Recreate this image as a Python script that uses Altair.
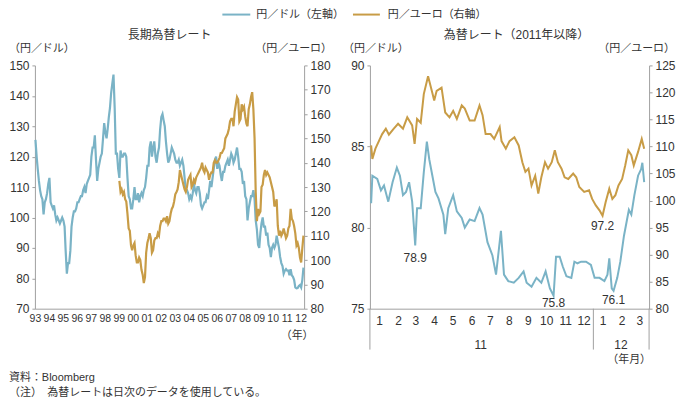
import altair as alt
import pandas as pd

BLUE = "#7ab3c6"
GOLD = "#c89c46"
GREY = "#a0a0a0"
TXT = "#333333"
FONT = "Liberation Sans, Noto Sans CJK JP, sans-serif"

# ---------------- data: long-term (monthly, mid-month) ----------------
usd_long = [
    125.5, 120, 116, 112, 109, 107, 106, 101, 105, 106, 108, 111,   # 1993
    113, 105, 104, 103, 104, 101, 99, 100, 99, 98, 99, 100,         # 1994
    99, 97, 89, 81.5, 85, 85, 89, 97, 100, 102, 102, 103,           # 1995
    105, 105, 106, 107, 107, 109, 110, 108, 111, 112, 113, 114,     # 1996
    120, 123, 123, 127, 119, 112, 116, 118, 120, 121, 126, 131,     # 1997
    128, 126, 129, 133, 136, 141, 144, 147, 136, 121, 121, 116,     # 1998
    113, 122, 120, 120, 121, 121, 120, 113, 107, 106, 103, 103,     # 1999
    106, 110, 106, 106, 108, 105, 107, 108, 107, 109, 110, 113,     # 2000
    117, 117, 123, 125, 120, 123, 125, 120, 118, 121, 123, 129,     # 2001
    133, 134, 132, 130, 125, 121, 118, 119, 121, 123, 122, 121,     # 2002
    119, 118, 118, 119, 117, 118, 119, 117, 113, 109, 109, 108,     # 2003
    106, 107, 106, 108, 111, 109, 108, 110, 110, 108, 104, 103,     # 2004
    104, 105, 105, 107, 106, 109, 112, 110, 113, 116, 119, 120,     # 2005
    116, 118, 117, 114, 112, 115, 115, 117, 118, 119, 117, 119,     # 2006
    121, 120, 118, 119, 121, 123, 120, 116, 116, 115, 111, 112,     # 2007
    107, 106, 99, 103, 105, 107, 107, 109, 106, 99, 96, 91,         # 2008
    90, 95, 98, 100, 97, 97, 94, 95, 91, 90, 87, 90,                # 2009
    91, 90, 91, 94, 92, 90, 87, 85, 84, 81.5, 82.5, 83,             # 2010
    82.5, 82.5, 81, 83, 81, 80.5, 79.5, 77, 76.7, 76.8, 77.5, 77.8, # 2011
    77, 79.5, 83.5,                                                 # 2012
]
eur_long = [
    132.5, 128, 129, 127, 128, 125, 124, 119, 113, 112, 106, 104,   # 1999
    106, 107, 102, 99, 99, 101, 100, 96, 94, 90.5, 93, 103,         # 2000
    107, 109, 111, 109, 103, 104, 108, 109, 109, 111, 110, 114,     # 2001
    116, 116, 117, 117, 116, 118, 115, 116, 119, 121, 122, 124,     # 2002
    127, 128, 129, 132, 137, 135, 133, 131, 129, 128, 130, 133,     # 2003
    134, 135, 130, 131, 133, 132, 134, 135, 136, 137, 138, 140,     # 2004
    137, 136, 138, 137, 136, 133, 135, 136, 136, 140, 141, 140,     # 2005
    140, 141, 142, 144, 144, 145, 146, 150, 151, 152, 154, 157,     # 2006
    158, 158, 155, 161, 164, 167, 166, 157, 158, 164, 162, 163,     # 2007
    159, 156, 155, 162, 164, 167, 169, 162, 150, 128, 116, 121,     # 2008
    119, 120, 130, 131, 135, 137, 135, 136, 135, 134, 132, 130,     # 2009
    128, 122, 123, 125, 114, 110, 112, 110, 111, 113, 111, 109,     # 2010
    110, 113, 114, 121, 117, 116, 114, 111, 106, 107, 105, 101,     # 2011
    99, 105, 110,                                                   # 2012
]
long_years = list(range(1993, 2013))

# ---------------- data: since 2011 ----------------
usd_short_dates = [
    "2011-01-03", "2011-01-05", "2011-01-13", "2011-01-19", "2011-01-24", "2011-01-31",
    "2011-02-07", "2011-02-14", "2011-02-19", "2011-02-24",
    "2011-03-01", "2011-03-06", "2011-03-11", "2011-03-16", "2011-03-19", "2011-03-25", "2011-03-30",
    "2011-04-04", "2011-04-08", "2011-04-13", "2011-04-18", "2011-04-23",
    "2011-05-01", "2011-05-04", "2011-05-09", "2011-05-17", "2011-05-23", "2011-05-31",
    "2011-06-05", "2011-06-13", "2011-06-21", "2011-06-29",
    "2011-07-04", "2011-07-12", "2011-07-20", "2011-07-26",
    "2011-08-03", "2011-08-08", "2011-08-15", "2011-08-24",
    "2011-09-01", "2011-09-09", "2011-09-14", "2011-09-22", "2011-09-30",
    "2011-10-08", "2011-10-15", "2011-10-22", "2011-10-28",
    "2011-11-01", "2011-11-07", "2011-11-12", "2011-11-18", "2011-11-26",
    "2011-12-01", "2011-12-06", "2011-12-12", "2011-12-20", "2011-12-28",
    "2012-01-03", "2012-01-11", "2012-01-19", "2012-01-24", "2012-01-27", "2012-01-31",
    "2012-02-03", "2012-02-09", "2012-02-14", "2012-02-20", "2012-02-25", "2012-02-28",
    "2012-03-03", "2012-03-08", "2012-03-14", "2012-03-19", "2012-03-21", "2012-03-24",
]
usd_short_values = [
    81.5, 83.2, 83.0, 82.3, 82.6, 81.6,
    82.8, 83.7, 83.2, 82.0,
    82.2, 82.8, 81.6, 78.9, 81.2, 81.2, 83.4,
    85.3, 84.2, 83.2, 82.2, 81.8,
    80.8, 79.6, 81.2, 82.0, 81.0, 80.6,
    80.0, 80.5, 80.4, 81.2,
    80.8, 79.1, 78.3, 77.1,
    79.8, 77.1, 76.7, 76.6,
    76.9, 77.3, 76.6, 76.35, 76.9,
    76.6, 77.3, 76.25, 75.8,
    78.2, 78.2, 77.6, 77.0, 76.9,
    77.9, 77.8, 77.9, 77.9, 77.7,
    76.9, 76.9, 76.7, 77.1, 78.1, 76.25,
    76.1, 76.9, 77.9, 79.5, 80.5, 81.1,
    80.8, 82.0, 83.2, 83.6, 84.0, 82.8,
]
eur_short_dates = [
    "2011-01-03", "2011-01-05", "2011-01-10", "2011-01-16", "2011-01-21", "2011-01-27",
    "2011-02-01", "2011-02-09", "2011-02-16", "2011-02-24",
    "2011-03-03", "2011-03-11", "2011-03-15", "2011-03-19", "2011-03-25", "2011-03-30",
    "2011-04-06", "2011-04-13", "2011-04-16", "2011-04-20", "2011-04-28",
    "2011-05-04", "2011-05-11", "2011-05-17", "2011-05-23", "2011-05-31",
    "2011-06-05", "2011-06-13", "2011-06-21", "2011-06-29",
    "2011-07-04", "2011-07-09", "2011-07-17", "2011-07-23",
    "2011-08-01", "2011-08-04", "2011-08-11", "2011-08-17", "2011-08-25",
    "2011-09-01", "2011-09-07", "2011-09-12", "2011-09-17", "2011-09-22", "2011-09-28",
    "2011-10-03", "2011-10-08", "2011-10-14", "2011-10-19", "2011-10-25", "2011-10-30",
    "2011-11-04", "2011-11-10", "2011-11-15", "2011-11-21", "2011-11-29",
    "2011-12-04", "2011-12-09", "2011-12-17", "2011-12-25", "2011-12-30",
    "2012-01-05", "2012-01-11", "2012-01-16", "2012-01-21", "2012-01-27",
    "2012-02-01", "2012-02-06", "2012-02-11", "2012-02-17", "2012-02-22", "2012-02-27",
    "2012-03-03", "2012-03-07", "2012-03-14", "2012-03-20", "2012-03-24",
]
eur_short_values = [
    110.2, 107.7, 109.6, 111.1, 112.3, 113.3,
    112.2, 113.3, 114.2, 113.3,
    115.4, 113.9, 110.5, 115.1, 114.4, 119.7,
    123.0, 119.9, 118.5, 120.3, 120.9,
    116.3, 115.4, 116.6, 115.1, 117.6,
    117.0, 114.8, 114.8, 117.6,
    115.8, 112.3, 112.3, 111.4,
    113.6, 111.0, 109.6, 111.0, 111.7,
    110.2, 107.1, 105.3, 105.9, 102.8, 104.6,
    101.3, 104.3, 107.1, 105.9, 107.1, 109.3,
    107.1, 105.9, 104.3, 104.0, 105.0,
    104.3, 102.5, 101.6, 101.9, 100.3,
    99.1, 98.2, 97.2, 99.7, 102.2,
    100.3, 101.0, 102.8, 104.0, 106.5, 109.3,
    108.4, 106.5, 109.0, 111.4, 109.6,
]
ann_dates = ["2011-03-16", "2011-10-28", "2012-02-03", "2012-01-16"]
ann_values = [78.9, 75.8, 76.1, 97.2]
ann_series = ["usd", "usd", "usd", "eur"]
ann_dy = [13, 7, 9, 10]

month_ticks = [(2011, m) for m in range(1, 13)] + [(2012, m) for m in range(1, 4)]
sep_dates = ["2011-01-01", "2012-01-01", "2012-04-01"]
year_label_dates = ["2011-07-01", "2012-02-15"]
year_label_text = ["11", "12"]

# ---------------- frames ----------------
def monthly(start, n):
    return pd.date_range(start, periods=n, freq="MS") + pd.Timedelta(days=14)

df_usd_long = pd.DataFrame({"date": monthly("1993-01-01", len(usd_long)), "value": usd_long})
df_eur_long = pd.DataFrame({"date": monthly("1999-01-01", len(eur_long)), "value": eur_long})
df_usd_short = pd.DataFrame({"date": pd.to_datetime(usd_short_dates), "value": usd_short_values})
df_eur_short = pd.DataFrame({"date": pd.to_datetime(eur_short_dates), "value": eur_short_values})

W1, W2, H = 270, 280, 244
ax_common = dict(grid=False, domainColor=GREY, tickColor=GREY, labelColor=TXT, title=None)


def yaxis(lo, hi, step, orient):
    return alt.Axis(orient=orient, values=list(range(lo, hi + 1, step)), tickSize=3,
                    labelPadding=3, labelFontSize=12, **ax_common)


def ych(lo, hi, step, orient, show=True):
    return alt.Y("value:Q", title=None,
                 scale=alt.Scale(domain=[lo, hi], nice=False, zero=False),
                 axis=yaxis(lo, hi, step, orient) if show else None)


def txt(s, x, y, align="left", size=11):
    return alt.Chart(pd.DataFrame({"label": [s]})).mark_text(
        align=align, baseline="middle", fontSize=size, color=TXT
    ).encode(x=alt.value(x), y=alt.value(y), text="label:N")


def seg(color, x1, x2, y):
    return alt.Chart(pd.DataFrame({"k": [0]})).mark_rule(color=color, strokeWidth=2).encode(
        x=alt.value(x1), x2=alt.value(x2), y=alt.value(y))


# ---------------- left panel ----------------
xL = alt.X("date:T", title=None,
           scale=alt.Scale(domain=[alt.DateTime(year=1993, month=1, date=1),
                                   alt.DateTime(year=2012, month=4, date=1)], nice=False),
           axis=alt.Axis(values=[alt.DateTime(year=y, month=1, date=1) for y in long_years],
                         format="%y", ticks=False, labelOverlap=False, labelFlush=False,
                         labelPadding=5, labelFontSize=10.5, labelAngle=0, **ax_common))

left = alt.layer(
    alt.Chart(df_usd_long).mark_line(color=BLUE, strokeWidth=2.2).encode(x=xL, y=ych(70, 150, 10, "left")),
    alt.Chart(df_eur_long).mark_line(color=GOLD, strokeWidth=2.2).encode(x=xL, y=ych(80, 180, 10, "right")),
    txt("長期為替レート", W1 / 2, -30, align="center", size=12),
    txt("（円／ドル）", -26, -16),
    txt("（円／ユーロ）", W1 + 28, -16, align="right"),
    txt("（年）", W1 - 7, H + 27, align="center"),
    seg(BLUE, 188, 216, -51),
    txt("円／ドル（左軸）", 222, -51),
    txt("資料：Bloomberg", -26, H + 70),
    txt("（注）　為替レートは日次のデータを使用している。", -26, H + 85),
).resolve_scale(y="independent").properties(width=W1, height=H)

# ---------------- right panel ----------------
xR = alt.X("date:T", title=None,
           scale=alt.Scale(domain=[alt.DateTime(year=2011, month=1, date=1),
                                   alt.DateTime(year=2012, month=4, date=1)], nice=False),
           axis=alt.Axis(values=[alt.DateTime(year=y, month=m, date=16) for (y, m) in month_ticks],
                         format="%-m", ticks=False, labelOverlap=False, labelFlush=False,
                         labelPadding=7, labelFontSize=12, labelAngle=0, **ax_common))

dom = {"usd": (75, 90), "eur": (80, 125)}
ann_layers = []
for d, v, s, dy in zip(ann_dates, ann_values, ann_series, ann_dy):
    lo, hi = dom[s]
    ann_layers.append(
        alt.Chart(pd.DataFrame({"date": [pd.Timestamp(d)], "value": [v], "label": [f"{v}"]}))
        .mark_text(dy=dy, fontSize=12, baseline="middle", color=TXT)
        .encode(x=xR, y=alt.Y("value:Q", scale=alt.Scale(domain=[lo, hi], nice=False, zero=False), axis=None),
                text="label:N")
    )

seps = alt.Chart(pd.DataFrame({"date": pd.to_datetime(sep_dates)})).mark_rule(
    color=GREY, strokeWidth=1).encode(x=xR, y=alt.value(H), y2=alt.value(H + 41))
years = alt.Chart(pd.DataFrame({"date": pd.to_datetime(year_label_dates), "label": year_label_text})).mark_text(
    fontSize=12, baseline="middle", color=TXT).encode(x=xR, y=alt.value(H + 36), text="label:N")

right = alt.layer(
    alt.Chart(df_usd_short).mark_line(color=BLUE, strokeWidth=2).encode(x=xR, y=ych(75, 90, 5, "left")),
    alt.Chart(df_eur_short).mark_line(color=GOLD, strokeWidth=2).encode(x=xR, y=ych(80, 125, 5, "right")),
    *ann_layers,
    seps,
    years,
    txt("為替レート（2011年以降）", W2 / 2 + 7, -30, align="center", size=12),
    txt("（円／ドル）", -27, -16),
    txt("（円／ユーロ）", W2 + 26, -16, align="right"),
    txt("（年月）", W2 - 20, H + 51, align="center"),
    seg(GOLD, -17, 10, -51),
    txt("円／ユーロ（右軸）", 18, -51),
).resolve_scale(y="independent").properties(width=W2, height=H)

chart = (
    alt.hconcat(left, right, spacing=66, bounds="flush")
    .properties(padding=0)
    .configure(font=FONT)
    .configure_view(strokeWidth=0)
)

chart.save("out.html", embed_options={"renderer": "svg", "actions": False})
